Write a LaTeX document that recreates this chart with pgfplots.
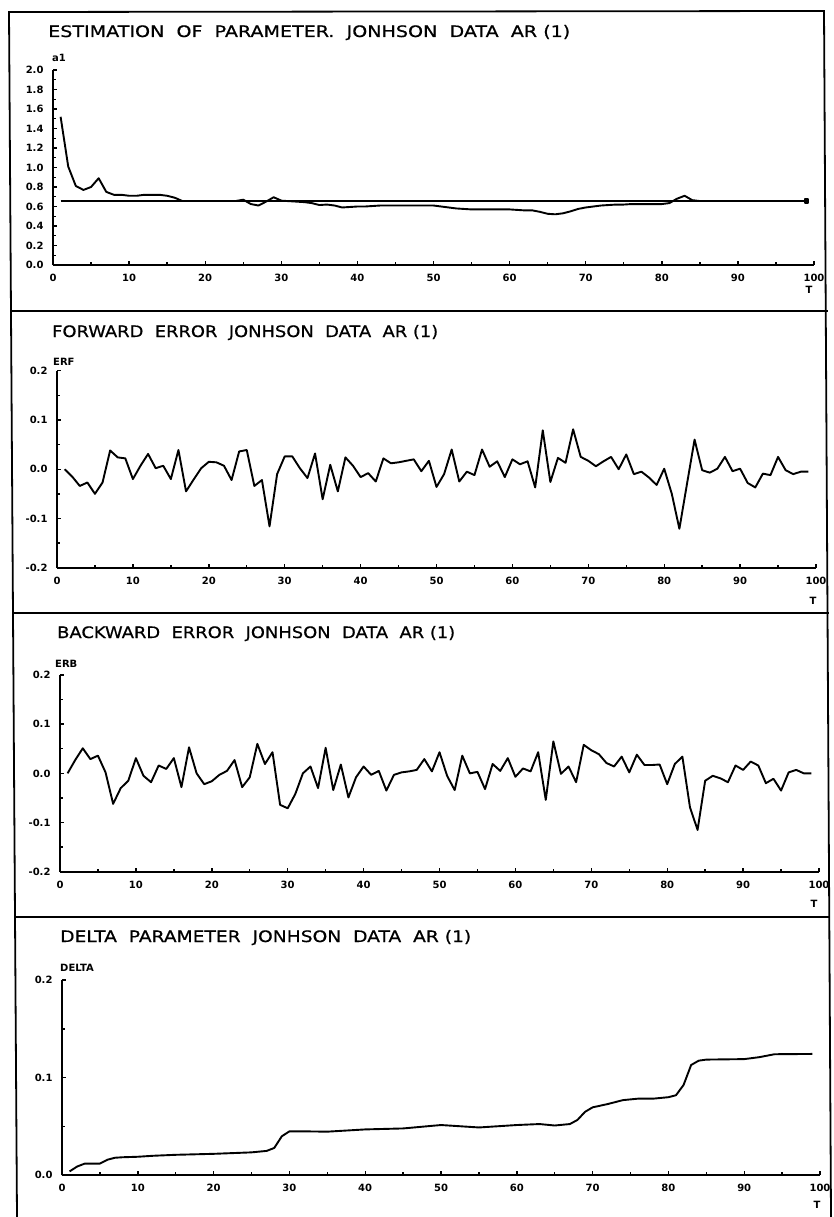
\documentclass[border=0pt]{standalone}
\usepackage{fontspec}
\usepackage{pgfplots}
\usepackage{graphicx}
\pgfplotsset{compat=1.18}
\newfontfamily\titlefam{DejaVu Sans}[FakeBold=0.6]
\newfontfamily\labfam{DejaVu Sans}
\newcommand\ticklab{\labfam\bfseries\fontsize{10}{10}\selectfont}
\newcommand\ttl[2]{\resizebox{#1}{12pt}{\titlefam #2}}

\pgfplotstableread{
x y
1 1.52
2 1.01
3 0.81
4 0.77
5 0.80
6 0.89
7 0.75
8 0.72
9 0.72
10 0.71
11 0.71
12 0.72
13 0.72
14 0.72
15 0.71
16 0.69
17 0.656
18 0.656
19 0.656
20 0.656
21 0.656
22 0.656
23 0.656
24 0.656
25 0.67
26 0.625
27 0.61
28 0.65
29 0.695
30 0.66
31 0.655
32 0.65
33 0.645
34 0.635
35 0.615
36 0.62
37 0.61
38 0.59
39 0.595
40 0.60
41 0.60
42 0.605
43 0.61
44 0.61
45 0.61
46 0.61
47 0.61
48 0.61
49 0.61
50 0.61
51 0.60
52 0.59
53 0.58
54 0.575
55 0.57
56 0.57
57 0.57
58 0.57
59 0.57
60 0.57
61 0.565
62 0.56
63 0.56
64 0.545
65 0.525
66 0.52
67 0.53
68 0.55
69 0.575
70 0.59
71 0.60
72 0.61
73 0.615
74 0.62
75 0.62
76 0.625
77 0.625
78 0.625
79 0.625
80 0.625
81 0.635
82 0.68
83 0.71
84 0.665
85 0.656
86 0.656
87 0.656
88 0.656
89 0.656
90 0.656
91 0.656
92 0.656
93 0.656
94 0.656
95 0.656
96 0.656
97 0.656
98 0.656
99 0.656
}\estim

\pgfplotstableread{
x y
1 0.000
2 -0.015
3 -0.034
4 -0.027
5 -0.050
6 -0.027
7 0.038
8 0.024
9 0.022
10 -0.020
11 0.007
12 0.031
13 0.002
14 0.007
15 -0.020
16 0.039
17 -0.045
18 -0.021
19 0.002
20 0.015
21 0.014
22 0.007
23 -0.022
24 0.036
25 0.039
26 -0.034
27 -0.022
28 -0.116
29 -0.010
30 0.026
31 0.026
32 0.002
33 -0.018
34 0.032
35 -0.061
36 0.009
37 -0.045
38 0.024
39 0.007
40 -0.016
41 -0.008
42 -0.025
43 0.022
44 0.012
45 0.014
46 0.017
47 0.020
48 -0.004
49 0.017
50 -0.036
51 -0.010
52 0.040
53 -0.025
54 -0.005
55 -0.012
56 0.040
57 0.005
58 0.016
59 -0.016
60 0.020
61 0.010
62 0.016
63 -0.037
64 0.079
65 -0.026
66 0.023
67 0.013
68 0.081
69 0.025
70 0.017
71 0.006
72 0.016
73 0.025
74 0.000
75 0.030
76 -0.010
77 -0.005
78 -0.017
79 -0.032
80 0.001
81 -0.050
82 -0.121
83 -0.030
84 0.060
85 -0.002
86 -0.007
87 0.001
88 0.025
89 -0.004
90 0.001
91 -0.028
92 -0.037
93 -0.009
94 -0.012
95 0.025
96 -0.002
97 -0.010
98 -0.005
99 -0.005
}\erf

\pgfplotstableread{
x y
1 0.000
2 0.027
3 0.051
4 0.029
5 0.036
6 0.002
7 -0.062
8 -0.030
9 -0.015
10 0.031
11 -0.005
12 -0.018
13 0.016
14 0.009
15 0.031
16 -0.028
17 0.053
18 0.000
19 -0.022
20 -0.016
21 -0.003
22 0.005
23 0.027
24 -0.028
25 -0.008
26 0.060
27 0.019
28 0.043
29 -0.064
30 -0.071
31 -0.042
32 0.000
33 0.014
34 -0.030
35 0.052
36 -0.034
37 0.018
38 -0.049
39 -0.008
40 0.014
41 -0.003
42 0.005
43 -0.035
44 -0.003
45 0.002
46 0.004
47 0.007
48 0.029
49 0.004
50 0.043
51 -0.005
52 -0.034
53 0.036
54 0.000
55 0.003
56 -0.032
57 0.019
58 0.005
59 0.031
60 -0.007
61 0.010
62 0.004
63 0.043
64 -0.054
65 0.065
66 -0.001
67 0.014
68 -0.018
69 0.058
70 0.047
71 0.039
72 0.021
73 0.014
74 0.034
75 0.002
76 0.038
77 0.017
78 0.017
79 0.018
80 -0.022
81 0.019
82 0.034
83 -0.069
84 -0.115
85 -0.015
86 -0.005
87 -0.010
88 -0.018
89 0.016
90 0.007
91 0.024
92 0.016
93 -0.020
94 -0.011
95 -0.035
96 0.002
97 0.007
98 0.000
99 0.000
}\erb

\pgfplotstableread{
x y
1 0.004
2 0.009
3 0.012
4 0.012
5 0.012
6 0.016
7 0.018
8 0.0185
10 0.019
12 0.020
15 0.021
20 0.022
25 0.0235
27 0.025
28 0.028
29 0.040
30 0.045
32 0.045
35 0.0447
40 0.047
45 0.048
50 0.0515
55 0.049
60 0.0515
63 0.0525
65 0.051
67 0.0525
68 0.0567
69 0.065
70 0.0696
72 0.073
74 0.077
76 0.0785
78 0.0785
80 0.080
81 0.082
82 0.0925
83 0.113
84 0.1174
85 0.1185
90 0.119
92 0.121
94 0.124
99 0.1243
}\delta

\pgfplotsset{
  panel/.style={
    scale only axis, anchor=south west,
    xmin=0, xmax=100,
    axis x line*=bottom, axis y line*=left,
    axis line style={line width=1.7pt, -},
    xtick={0,10,...,100}, minor x tick num=1,
    minor y tick num=1,
    tick align=inside,
    major tick length=4pt, minor tick length=3pt,
    every tick/.style={line width=1.4pt, black},
    every minor tick/.style={line width=1.4pt, black},
    tick label style={font=\ticklab},
    /pgf/number format/assume math mode=true,
    xticklabel style={yshift=-5.5pt},
    yticklabel style={xshift=-6pt, /pgf/number format/fixed, /pgf/number format/fixed zerofill, /pgf/number format/precision=1},
    clip=false,
  },
  dline/.style={black, line width=1.9pt, mark=none, line join=round},
}

\begin{document}
\begin{tikzpicture}
\useasboundingbox (0pt,0pt) rectangle (834pt,-1217pt);
% frames
\draw[line width=1.8pt, line join=miter] (17pt,-1217pt) -- (9pt,-12pt) -- (824pt,-11pt) -- (831pt,-1217pt);
\draw[line width=1.8pt] (10pt,-311pt) -- (828pt,-311pt);
\draw[line width=1.8pt] (12pt,-613pt) -- (829pt,-613pt);
\draw[line width=1.8pt] (15pt,-917pt) -- (830pt,-917pt);

% titles
\node[anchor=base west, inner sep=0] at (48pt,-37pt) {\ttl{522pt}{ESTIMATION\ \ OF\ \ PARAMETER.\ \ JONHSON\ \ DATA\ \ AR (1)}};
\node[anchor=base west, inner sep=0] at (52pt,-337pt) {\ttl{386pt}{FORWARD\ \ ERROR\ \ JONHSON\ \ DATA\ \ AR (1)}};
\node[anchor=base west, inner sep=0] at (57pt,-638pt) {\ttl{398pt}{BACKWARD\ \ ERROR\ \ JONHSON\ \ DATA\ \ AR (1)}};
\node[anchor=base west, inner sep=0] at (60pt,-942pt) {\ttl{411pt}{DELTA\ \ PARAMETER\ \ JONHSON\ \ DATA\ \ AR (1)}};

% y names
\node[anchor=base west, inner sep=0, font=\ticklab] at (52pt,-62pt) {a1};
\node[anchor=base west, inner sep=0, font=\ticklab] at (53pt,-365pt) {ERF};
\node[anchor=base west, inner sep=0, font=\ticklab] at (55pt,-667pt) {ERB};
\node[anchor=base west, inner sep=0, font=\ticklab] at (60pt,-971pt) {DELTA};

% x names
\node[anchor=base, inner sep=0, font=\ticklab] at (809pt,-293pt) {T};
\node[anchor=base, inner sep=0, font=\ticklab] at (813pt,-604pt) {T};
\node[anchor=base, inner sep=0, font=\ticklab] at (814pt,-907pt) {T};
\node[anchor=base, inner sep=0, font=\ticklab] at (817pt,-1208pt) {T};

% panel 1
\begin{axis}[panel, at={(53pt,-265pt)}, width=761pt, height=195pt,
  ymin=0, ymax=2, ytick={0,0.2,0.4,0.6,0.8,1.0,1.2,1.4,1.6,1.8,2.0}]
\addplot[dline] table {\estim};
\addplot[dline, mark=square*, mark size=1.6pt, mark indices={2}] coordinates {(1,0.656) (99,0.656)};
\end{axis}

% panel 2
\begin{axis}[panel, at={(57pt,-567.7pt)}, width=759pt, height=197pt,
  ymin=-0.2, ymax=0.2, ytick={-0.2,-0.1,0,0.1,0.2}]
\addplot[dline] table {\erf};
\end{axis}

% panel 3
\begin{axis}[panel, at={(60pt,-871.7pt)}, width=759pt, height=196.7pt,
  ymin=-0.2, ymax=0.2, ytick={-0.2,-0.1,0,0.1,0.2}]
\addplot[dline] table {\erb};
\end{axis}

% panel 4
\begin{axis}[panel, at={(62pt,-1175.3pt)}, width=758pt, height=195.3pt,
  ymin=0, ymax=0.2, ytick={0,0.1,0.2}]
\addplot[dline] table {\delta};
\end{axis}
\end{tikzpicture}
\end{document}
